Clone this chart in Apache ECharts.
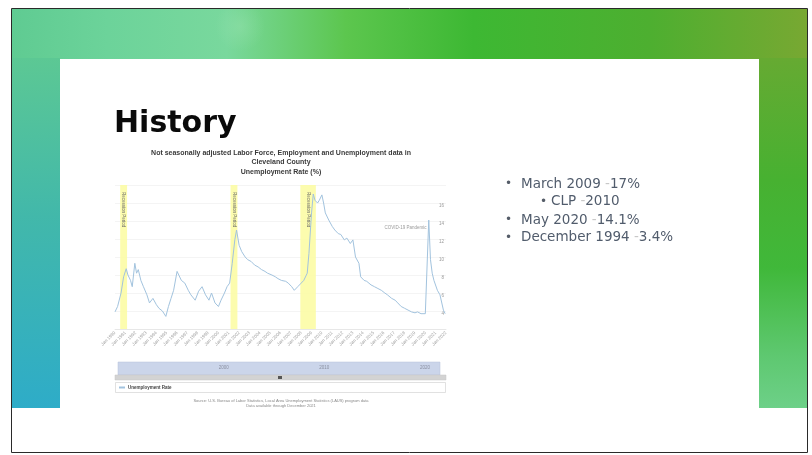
<!DOCTYPE html>
<html>
<head>
<meta charset="utf-8">
<script src="https://cdn.jsdelivr.net/npm/echarts@6/dist/echarts.min.js"></script>
<style>
html,body{margin:0;padding:0;background:#fff;}
#c{width:812px;height:455px;}
</style>
</head>
<body>
<div id="c"></div>
<script>
// ---- data ----
const months = ['1990-01','1990-04','1990-08','1990-11','1991-02','1991-04','1991-07','1991-09','1991-12','1992-02','1992-04','1992-07','1992-10','1993-02','1993-05','1993-09','1994-01','1994-04','1994-08','1994-12','1995-03','1995-06','1995-09','1996-01','1996-03','1996-06','1996-10','1997-02','1997-05','1997-10','1998-02','1998-06','1998-10','1999-02','1999-05','1999-09','2000-01','2000-04','2000-08','2000-11','2001-02','2001-05','2001-08','2001-10','2002-01','2002-04','2002-08','2002-11','2003-03','2003-07','2003-11','2004-03','2004-07','2004-10','2005-03','2005-07','2005-10','2006-02','2006-07','2006-10','2007-02','2007-05','2007-09','2008-01','2008-04','2008-08','2008-10','2009-01','2009-03','2009-05','2009-08','2009-10','2010-01','2010-03','2010-05','2010-09','2011-01','2011-04','2011-08','2011-11','2012-03','2012-06','2012-10','2013-01','2013-04','2013-08','2013-10','2014-02','2014-05','2014-10','2015-02','2015-06','2015-10','2016-02','2016-05','2016-10','2017-02','2017-05','2017-09','2018-01','2018-05','2018-09','2019-01','2019-04','2019-08','2020-01','2020-03','2020-05','2020-07','2020-09','2020-11','2021-03','2021-06','2021-10','2021-12'];
const rates = [3.9,4.5,6.0,7.8,8.7,8.0,7.4,6.7,9.3,8.2,8.6,7.4,6.7,5.8,4.9,5.4,4.7,4.3,4.0,3.4,4.5,5.4,6.3,8.4,8.6,7.4,7.1,6.3,5.8,5.2,6.2,6.7,5.8,5.2,6.0,4.9,4.5,5.2,6.0,6.7,7.1,9.3,11.9,13.0,11.3,10.6,10.0,9.7,9.5,9.1,8.9,8.6,8.4,8.2,8.0,7.8,7.6,7.4,7.3,7.1,6.7,6.3,6.7,7.1,7.4,8.2,10.4,14.9,17.0,16.3,16.0,16.3,16.9,16.0,14.9,14.1,13.4,13.0,12.6,12.5,11.9,12.1,11.5,11.9,10.0,9.3,7.8,7.4,7.3,6.9,6.7,6.5,6.3,6.0,5.8,5.4,5.2,4.9,4.5,4.3,4.1,3.9,3.8,3.9,3.7,3.7,3.9,14.1,9.7,8.2,7.4,6.3,5.8,4.1,3.7];
const recessions = [['1990-07','1991-03'],['2001-03','2001-11'],['2007-12','2009-06']];
const recessionLabel = 'Recession Period';
const annotation = {month:'2018-02', value:13.2, text:'COVID-19 Pandemic'};
const navigatorYears = [2000, 2010, 2020];
const xLabelPrefix = 'Jan ';
const chartTitle = ['Not seasonally adjusted Labor Force, Employment and Unemployment data in','Cleveland County','Unemployment Rate (%)'];
const sourceLines = ['Source: U.S. Bureau of Labor Statistics, Local Area Unemployment Statistics (LAUS) program data','Data available through December 2021'];
const bullets = [
  {level:0, a:'March 2009 ', b:'17%'},
  {level:1, a:'CLP ', b:'2010'},
  {level:0, a:'May 2020 ', b:'14.1%'},
  {level:0, a:'December 1994 ', b:'3.4%'}
];

const toYear = s => +s.slice(0,4) + (+s.slice(5,7)-1)/12;
const seriesData = months.map((m,i)=>[toYear(m), rates[i]]);

function lin(x,y,x2,y2,stops){return {type:'linear',x:x,y:y,x2:x2,y2:y2,colorStops:stops.map(s=>({offset:s[0],color:s[1]}))};}

const graphic = [
  // top band
  {type:'rect', z:-10, shape:{x:12,y:9,width:796,height:50}, style:{fill:lin(0,0,1,0,[[0,'#5fcb92'],[0.12,'#6cd39a'],[0.27,'#79d89d'],[0.42,'#5cc64e'],[0.58,'#3db833'],[0.8,'#4daf30'],[1,'#78a832']])}},
  {type:'rect', z:-9, shape:{x:120,y:9,width:240,height:50}, style:{fill:{type:'radial',x:0.5,y:0.35,r:0.5,colorStops:[{offset:0,color:'rgba(160,230,180,0.35)'},{offset:1,color:'rgba(160,230,180,0)'}]}}},
  // left band
  {type:'rect', z:-10, shape:{x:12,y:58,width:48,height:350}, style:{fill:lin(0,0,0,1,[[0,'#5cc894'],[0.45,'#42b8aa'],[1,'#2eacc8']])}},
  // right band
  {type:'rect', z:-10, shape:{x:759,y:58,width:49,height:350}, style:{fill:lin(0,0,0,1,[[0,'#66aa32'],[0.35,'#47b131'],[0.6,'#40b83a'],[0.85,'#5ec870'],[1,'#6dd088']])}},
  // frame
  {type:'rect', z:-5, shape:{x:11.5,y:8.5,width:796,height:444}, style:{fill:null, stroke:'#2a2a2a', lineWidth:1}},
  // slide title
  {type:'text', z:10, style:{x:114, y:124, text:'History', font:'bold 30px "DejaVu Sans"', fill:'#0a0a0a', textAlign:'left', textVerticalAlign:'middle'}},
  // chart title
  {type:'text', z:10, style:{x:281, y:153, text:chartTitle[0], font:'bold 7px "Liberation Sans"', fill:'#3a3a3a', textAlign:'center', textVerticalAlign:'middle'}},
  {type:'text', z:10, style:{x:281, y:162.5, text:chartTitle[1], font:'bold 7px "Liberation Sans"', fill:'#3a3a3a', textAlign:'center', textVerticalAlign:'middle'}},
  {type:'text', z:10, style:{x:281, y:172, text:chartTitle[2], font:'bold 7px "Liberation Sans"', fill:'#3a3a3a', textAlign:'center', textVerticalAlign:'middle'}},
  // scrollbar
  {type:'rect', z:1, shape:{x:115,y:375,width:331,height:5}, style:{fill:'#d3d3d3', stroke:'#c4c4c4', lineWidth:0.5}},
  {type:'rect', z:2, shape:{x:278,y:376,width:4,height:3}, style:{fill:'#555'}},
  // legend box
  {type:'rect', z:1, shape:{x:115.5,y:382.5,width:330,height:10}, style:{fill:'#fff', stroke:'#d4d4d4', lineWidth:0.7}},
  // source
  {type:'text', z:10, style:{x:281, y:401, text:sourceLines[0], font:'4px "Liberation Sans"', fill:'#888', textAlign:'center', textVerticalAlign:'middle'}},
  {type:'text', z:10, style:{x:281, y:406, text:sourceLines[1], font:'4px "Liberation Sans"', fill:'#888', textAlign:'center', textVerticalAlign:'middle'}}
];
const bulletY = [184, 201.5, 220, 237.5];
bullets.forEach((b,i)=>{
  const bx = b.level===0 ? 505 : 540;
  const tx = b.level===0 ? 521 : 551;
  graphic.push({type:'text', z:10, style:{x:bx, y:bulletY[i], text:'•', font:'12px "DejaVu Sans"', fill:'#555d68', textAlign:'left', textVerticalAlign:'middle'}});
  graphic.push({type:'text', z:10, style:{x:tx, y:bulletY[i], text:b.a+'{d|-}'+b.b, font:'13.5px "DejaVu Sans"', fill:'#515c6c', textAlign:'left', textVerticalAlign:'middle', rich:{d:{fill:'#c8c8c8', font:'13.5px "DejaVu Sans"'}}}});
});

const option = {
  animation:false,
  backgroundColor:'#ffffff',
  graphic: graphic,
  legend:{data:['Unemployment Rate'], left:119, top:385, padding:0, itemWidth:6, itemHeight:2, icon:'rect', itemGap:4, textStyle:{fontSize:4.5, color:'#444', fontWeight:'bold', padding:[0,0,0,-2]}},
  grid:[
    {left:115, top:185, width:331, height:144},
    {left:118, top:362, width:322, height:13, show:true, backgroundColor:'#cbd5ea', borderColor:'#b7c2da', borderWidth:0.5}
  ],
  xAxis:[
    {gridIndex:0, type:'value', min:1990, max:2022, interval:1,
     axisLine:{show:true, lineStyle:{color:'#dedede', width:0.6}}, axisTick:{show:false}, splitLine:{show:false},
     axisLabel:{rotate:45, fontSize:4.5, color:'#a3a3a3', margin:3, formatter:v=>xLabelPrefix+v}},
    {gridIndex:1, type:'value', min:1990, max:2022, interval:10,
     axisLine:{show:false}, axisTick:{show:false}, splitLine:{show:false},
     axisLabel:{inside:true, fontSize:4.5, color:'#8a8fa0', margin:5, align:'left', showMaxLabel:false,
       formatter:v=> navigatorYears.indexOf(v)>=0 ? String(v) : ''}}
  ],
  yAxis:[
    {gridIndex:0, type:'value', position:'right', min:2, max:18, interval:2,
     axisLine:{show:false}, axisTick:{show:false},
     splitLine:{lineStyle:{color:'#ececec', width:0.6}},
     axisLabel:{inside:true, fontSize:4.5, color:'#9a9a9a', margin:2, verticalAlign:'top',
       formatter:v=> (v>=4 && v<=16) ? String(v) : ''}},
    {gridIndex:1, type:'value', min:0, max:1, show:false}
  ],
  series:[
    {type:'line', name:'Unemployment Rate', xAxisIndex:0, yAxisIndex:0, data:seriesData,
     showSymbol:false, lineStyle:{color:'#a2c3de', width:1}, itemStyle:{color:'#a2c3de'},
     markArea:{silent:true, itemStyle:{color:'rgba(251,251,160,0.85)'},
       label:{show:true, position:'insideTop', rotate:-90, align:'left', verticalAlign:'middle', distance:7, fontSize:4.5, color:'#666'},
       data: recessions.map(r=>[{xAxis:toYear(r[0]), name:recessionLabel},{xAxis:toYear(r[1])}])},
     markPoint:{silent:true, symbol:'rect', symbolSize:0,
       label:{show:true, position:'inside', fontSize:4.5, color:'#9a9a9a', formatter:annotation.text},
       data:[{coord:[toYear(annotation.month), annotation.value]}]}
    }
  ]
};
const chart = echarts.init(document.getElementById('c'));
chart.setOption(option);
</script>
</body>
</html>
